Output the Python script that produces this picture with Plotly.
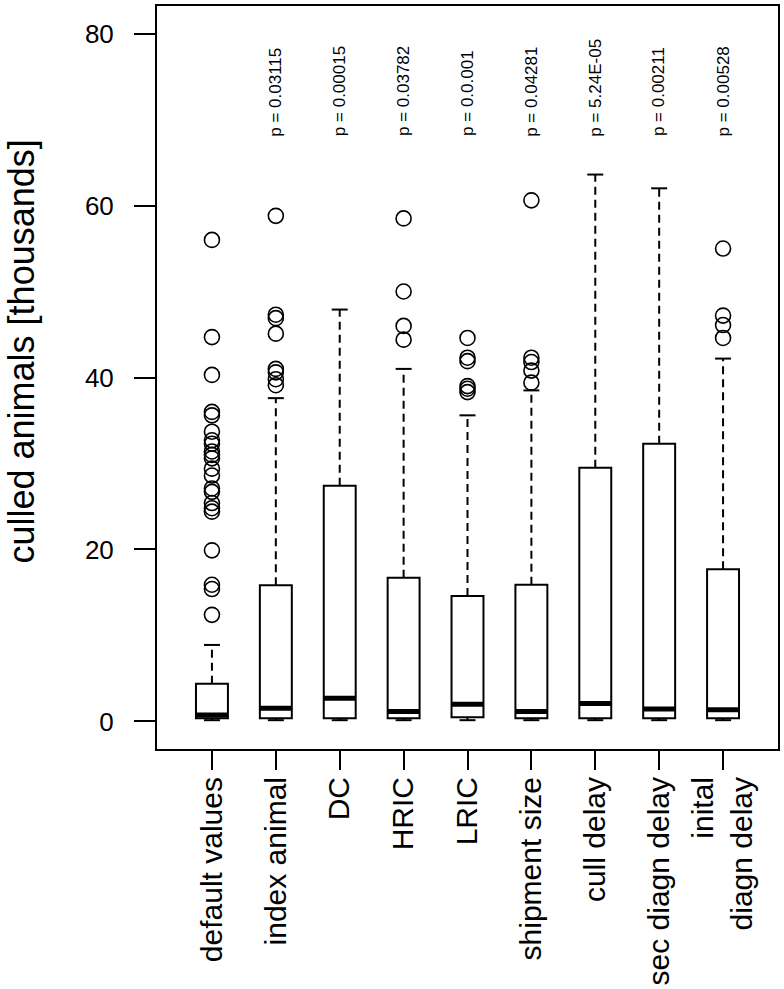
import plotly.graph_objects as go

categories = ["default values", "index animal", "DC", "HRIC", "LRIC",
              "shipment size", "cull delay", "sec diagn delay", "inital<br>diagn delay"]
positions = [1, 2, 3, 4, 5, 6, 7, 8, 9]
q1 = [0.38, 0.38, 0.38, 0.38, 0.5, 0.38, 0.38, 0.38, 0.38]
median = [0.75, 1.55, 2.7, 1.15, 2.0, 1.15, 2.1, 1.45, 1.35]
q3 = [4.4, 15.85, 27.4, 16.7, 14.6, 15.9, 29.5, 32.3, 17.7]
whisker_low = [0.15, 0.15, 0.15, 0.15, 0.15, 0.15, 0.15, 0.15, 0.15]
whisker_high = [8.9, 37.6, 47.9, 41.0, 35.6, 38.5, 63.6, 62.0, 42.2]
outliers = [
    [56.0, 44.7, 40.3, 36.0, 35.6, 33.7, 32.7, 32.3, 31.4, 31.0, 30.6, 29.4,
     28.6, 27.1, 26.7, 25.4, 24.8, 24.4, 19.9, 15.9, 15.4, 12.4],
    [58.8, 47.3, 46.9, 45.1, 41.0, 40.6, 39.8, 39.1],
    [],
    [58.5, 50.0, 46.0, 44.4],
    [44.6, 42.3, 41.9, 39.0, 38.7, 38.3],
    [60.6, 42.3, 41.8, 40.8, 39.4],
    [],
    [],
    [55.0, 47.2, 46.1, 44.6],
]
p_values = ["", "p = 0.03115", "p = 0.00015", "p = 0.03782", "p = 0.0.001",
            "p = 0.04281", "p = 5.24E-05", "p = 0.00211", "p = 0.00528"]
y_ticks = [0, 20, 40, 60, 80]
y_title = "culled animals [thousands]"

BOX_W = 0.5
CAP_W = 0.25
FONT = "Liberation Sans, Arial, Helvetica, sans-serif"

fig = go.Figure()

# boxes (whiskers drawn separately, dashed)
fig.add_trace(go.Box(
    x=positions, q1=q1, median=median, q3=q3,
    lowerfence=q1, upperfence=q3,
    width=BOX_W, fillcolor="white",
    line=dict(color="black", width=2),
    boxpoints=False, showlegend=False, hoverinfo="skip",
))

# dashed whiskers
wx, wy = [], []
for p, a, b, lo, hi in zip(positions, q1, q3, whisker_low, whisker_high):
    wx += [p, p, None, p, p, None]
    wy += [b, hi, None, lo, a, None]
fig.add_trace(go.Scatter(x=wx, y=wy, mode="lines",
                         line=dict(color="black", width=2, dash="8px,5px"),
                         showlegend=False, hoverinfo="skip"))

# staples
cx, cy = [], []
for p, lo, hi in zip(positions, whisker_low, whisker_high):
    cx += [p - CAP_W / 2, p + CAP_W / 2, None, p - CAP_W / 2, p + CAP_W / 2, None]
    cy += [hi, hi, None, lo, lo, None]
fig.add_trace(go.Scatter(x=cx, y=cy, mode="lines",
                         line=dict(color="black", width=2),
                         showlegend=False, hoverinfo="skip"))

# thick medians
mx, my = [], []
for p, m in zip(positions, median):
    mx += [p - BOX_W / 2, p + BOX_W / 2, None]
    my += [m, m, None]
fig.add_trace(go.Scatter(x=mx, y=my, mode="lines",
                         line=dict(color="black", width=5),
                         showlegend=False, hoverinfo="skip"))

# outliers
ox, oy = [], []
for p, vals in zip(positions, outliers):
    ox += [p] * len(vals)
    oy += vals
fig.add_trace(go.Scatter(x=ox, y=oy, mode="markers",
                         marker=dict(symbol="circle-open", size=15,
                                     color="black", line=dict(width=1.6)),
                         showlegend=False, hoverinfo="skip"))

# p-value labels
for p, txt in zip(positions, p_values):
    if txt:
        fig.add_annotation(x=p, y=67.8, text=txt, textangle=-90,
                           showarrow=False, xanchor="center", yanchor="bottom",
                           font=dict(family=FONT, size=17, color="black"))

# y-axis title
fig.add_annotation(xref="paper", yref="paper", x=0, y=0.535, xshift=-136,
                   text=y_title, textangle=-90, showarrow=False,
                   xanchor="center", yanchor="middle",
                   font=dict(family=FONT, size=36, color="black"))

fig.update_layout(
    width=784, height=989,
    margin=dict(l=157, r=6, t=4, b=238),
    paper_bgcolor="white", plot_bgcolor="white",
    font=dict(family=FONT, color="black"),
    showlegend=False,
)
fig.update_xaxes(
    range=[0.14, 9.86], tickvals=positions, ticktext=categories,
    tickangle=-90, ticks="outside", ticklen=19, tickwidth=2, tickcolor="black",
    ticklabelstandoff=-5,
    tickfont=dict(family=FONT, size=30, color="black"),
    showline=True, linecolor="black", linewidth=2, mirror=True,
    showgrid=False, zeroline=False,
)
fig.update_yaxes(
    range=[-3.2, 83.2], tickvals=y_ticks, ticktext=[str(v) for v in y_ticks],
    ticks="outside", ticklen=21, tickwidth=2, tickcolor="black",
    ticklabelstandoff=15,
    tickfont=dict(family=FONT, size=26, color="black"),
    showline=True, linecolor="black", linewidth=2, mirror=True,
    showgrid=False, zeroline=False,
)

fig.write_html("out.html", config={"displayModeBar": False},
               post_script="document.body.style.margin='0px';")
